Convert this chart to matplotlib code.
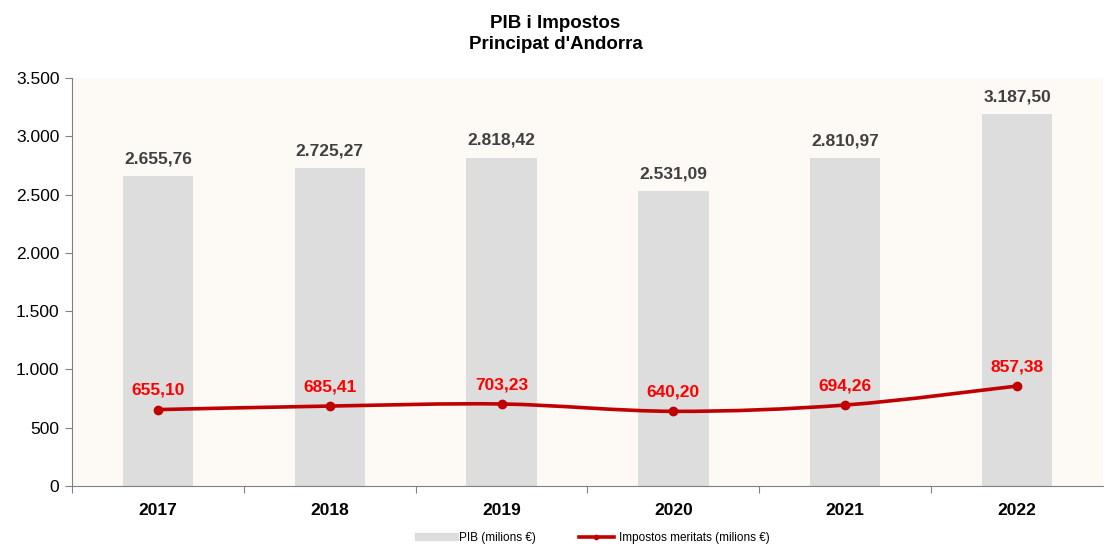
import matplotlib.pyplot as plt
import numpy as np
from matplotlib.path import Path
from matplotlib.patches import PathPatch
from matplotlib.lines import Line2D
from matplotlib.ticker import FuncFormatter, FixedLocator

plt.rcParams['font.family'] = ['Liberation Sans', 'DejaVu Sans']

years = ['2017', '2018', '2019', '2020', '2021', '2022']
pib = [2655.76, 2725.27, 2818.42, 2531.09, 2810.97, 3187.50]
impostos = [655.10, 685.41, 703.23, 640.20, 694.26, 857.38]


def fmt_num(v, dec=2):
    s = f"{v:,.{dec}f}"
    return s.replace(',', 'X').replace('.', ',').replace('X', '.')


fig = plt.figure(figsize=(11.11, 5.46), dpi=100)
ax = fig.add_axes([0.0648, 0.110, 0.928, 0.747])
ax.set_facecolor('#FDFAF6')

x = np.arange(len(years))
ax.bar(x, pib, width=0.41, color='#DDDDDD', zorder=2)
for xi, v in zip(x, pib):
    ax.text(xi, v + 85, fmt_num(v), ha='center', va='bottom',
            fontsize=12.5, fontweight='bold', color='#404040', zorder=5)

# smoothed line (bezier through the data points)
pts = np.column_stack([x, impostos]).astype(float)
verts = [pts[0]]
codes = [Path.MOVETO]
for i in range(len(pts) - 1):
    p0 = pts[max(i - 1, 0)]
    p1 = pts[i]
    p2 = pts[i + 1]
    p3 = pts[min(i + 2, len(pts) - 1)]
    c1 = p1 + (p2 - p0) / 6
    c2 = p2 - (p3 - p1) / 6
    verts += [c1, c2, p2]
    codes += [Path.CURVE4] * 3
ax.add_patch(PathPatch(Path(verts, codes), facecolor='none',
                       edgecolor='#C00000', lw=2.6, zorder=3))
ax.plot(x, impostos, 'o', color='#C00000', ms=6, zorder=4)
for xi, v in zip(x, impostos):
    ax.text(xi, v + 100, fmt_num(v), ha='center', va='bottom',
            fontsize=12.5, fontweight='bold', color='#FF0000', zorder=5)

ax.set_xlim(-0.5, len(years) - 0.5)
ax.set_ylim(0, 3500)
ax.set_yticks(np.arange(0, 3501, 500))
ax.yaxis.set_major_formatter(FuncFormatter(lambda v, p: fmt_num(v, 0)))
ax.xaxis.set_major_locator(FixedLocator(np.arange(-0.5, len(years) - 1, 1.0)))
ax.xaxis.set_major_formatter(FuncFormatter(lambda v, p: ''))
ax.xaxis.set_minor_locator(FixedLocator(x))
ax.set_xticklabels(years, minor=True)
ax.tick_params(axis='x', which='minor', length=0, pad=12, labelsize=12.5)
for lab in ax.get_xticklabels(minor=True):
    lab.set_fontweight('bold')
ax.tick_params(axis='x', which='major', length=5, color='#808080', direction='out')
ax.tick_params(axis='y', length=5, color='#808080', labelsize=12.5, pad=4)

for s in ['top', 'right']:
    ax.spines[s].set_visible(False)
for s in ['left', 'bottom']:
    ax.spines[s].set_color('#808080')

fig.text(0.5, 0.938, "PIB i Impostos\nPrincipat d'Andorra", ha='center', va='center',
         fontsize=13.5, fontweight='bold', linespacing=1.35)

handles = [Line2D([0], [0], color='#DDDDDD', lw=6),
           Line2D([0], [0], color='#C00000', lw=2.6, marker='o', ms=3)]
fig.legend(handles, ['PIB (milions €)', 'Impostos meritats (milions €)'],
           loc='center', bbox_to_anchor=(0.535, 0.015), ncol=2, frameon=False,
           fontsize=8.5, handlelength=3.0, columnspacing=3.6, handletextpad=0.4)

fig.savefig('out.png', dpi=100)
plt.close(fig)
